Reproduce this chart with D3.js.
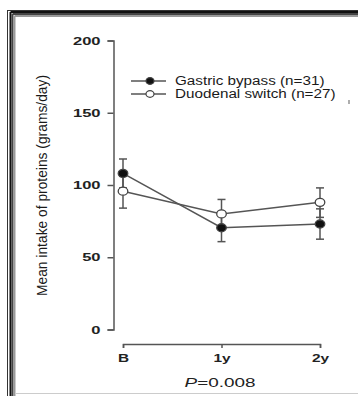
<!DOCTYPE html>
<html>
<head>
<meta charset="utf-8">
<script src="https://cdn.jsdelivr.net/npm/d3@7"></script>
<style>
  body { margin: 0; background: #fff; }
  svg { display: block; font-family: "Liberation Sans", Arial, sans-serif; }
</style>
</head>
<body>
<svg id="chart"></svg>
<script>
// data
const categories = ['B', '1y', '2y'];
const seriesNames = ['Gastric bypass (n=31)', 'Duodenal switch (n=27)'];
const bypassMean = [108, 70.4, 73];
const bypassLow = [98, 60.8, 62.5];
const bypassHigh = [118, 80, 83.5];
const switchMean = [95.7, 80, 88];
const switchLow = [84, 70, 77.6];
const switchHigh = [106, 90, 98];
const yTicks = [0, 50, 100, 150, 200];
const pLabel = '0.008';

const width = 358, height = 396;
const svg = d3.select('#chart').attr('width', width).attr('height', height);

// picture frame
svg.append('line').attr('x1', 7.5).attr('x2', 7.5).attr('y1', 10).attr('y2', height).attr('stroke', '#333').attr('stroke-width', 1);
svg.append('line').attr('x1', 7).attr('x2', width).attr('y1', 10.5).attr('y2', 10.5).attr('stroke', '#333').attr('stroke-width', 1);
[[10.5, '#111', 2], [12.5, '#444', 2], [14.5, '#999', 2]].forEach(([o, c, w]) => {
  svg.append('line').attr('x1', o).attr('x2', o).attr('y1', o + 1.5).attr('y2', height).attr('stroke', c).attr('stroke-width', w);
  svg.append('line').attr('x1', o).attr('x2', width).attr('y1', o + 1.5).attr('y2', o + 1.5).attr('stroke', c).attr('stroke-width', w);
});
svg.append('line').attr('x1', 15).attr('x2', width).attr('y1', 393.5).attr('y2', 393.5).attr('stroke', '#ccc').attr('stroke-width', 1);

const x = d3.scalePoint().domain(categories).range([123, 320]);
const y = d3.scaleLinear().domain([0, 200]).range([329.5, 40.5]);

const stretch = (sel, k) => sel.each(function () {
  const w = this.getComputedTextLength();
  d3.select(this).attr('textLength', w * k).attr('lengthAdjust', 'spacingAndGlyphs');
});

// y axis
const yAxis = svg.append('g')
  .attr('transform', 'translate(113.5,0)')
  .call(d3.axisLeft(y).tickValues(yTicks).tickSize(6).tickPadding(7));
yAxis.selectAll('path, line').attr('stroke', '#555').attr('stroke-width', 1.5);
yAxis.selectAll('text').attr('font-size', 11).attr('font-weight', 'bold').attr('fill', '#222')
  .attr('font-family', '"Liberation Sans", Arial, sans-serif').call(stretch, 1.5);

// x axis
const xAxis = svg.append('g')
  .attr('transform', 'translate(0,344)')
  .call(d3.axisBottom(x).tickSize(4).tickPadding(6));
xAxis.selectAll('path, line').attr('stroke', '#555').attr('stroke-width', 1.5);
xAxis.selectAll('text').attr('font-size', 11).attr('font-weight', 'bold').attr('fill', '#222')
  .attr('font-family', '"Liberation Sans", Arial, sans-serif').call(stretch, 1.4);

// y axis title
svg.append('text')
  .attr('transform', 'translate(46.5,185.5) rotate(-90)')
  .attr('text-anchor', 'middle')
  .attr('font-size', 15.5)
  .attr('fill', '#1a1a1a')
  .attr('textLength', 221).attr('lengthAdjust', 'spacingAndGlyphs')
  .text('Mean intake of proteins (grams/day)');

// p value
const pText = svg.append('text')
  .attr('x', 220).attr('y', 387)
  .attr('text-anchor', 'middle')
  .attr('font-size', 13.5)
  .attr('fill', '#222');
pText.append('tspan').attr('font-style', 'italic').text('P');
pText.append('tspan').text('=' + pLabel);
stretch(pText, 1.4);

const series = [
  { mean: switchMean, low: switchLow, high: switchHigh, fill: '#fff' },
  { mean: bypassMean, low: bypassLow, high: bypassHigh, fill: '#111' }
];

const line = d3.line().x((d, i) => x(categories[i])).y(d => y(d));
const capW = 4;

series.forEach(s => {
  const g = svg.append('g');
  categories.forEach((c, i) => {
    g.append('line').attr('x1', x(c)).attr('x2', x(c)).attr('y1', y(s.low[i])).attr('y2', y(s.high[i]))
      .attr('stroke', '#555').attr('stroke-width', 1.5);
    [s.low[i], s.high[i]].forEach(v => {
      g.append('line').attr('x1', x(c) - capW).attr('x2', x(c) + capW).attr('y1', y(v)).attr('y2', y(v))
        .attr('stroke', '#555').attr('stroke-width', 1.5);
    });
  });
});

series.forEach(s => {
  svg.append('path').datum(s.mean).attr('d', line)
    .attr('fill', 'none').attr('stroke', '#555').attr('stroke-width', 1.5);
});

series.forEach(s => {
  svg.append('g').selectAll('ellipse').data(s.mean).join('ellipse')
    .attr('cx', (d, i) => x(categories[i])).attr('cy', d => y(d))
    .attr('rx', 4.8).attr('ry', 4)
    .attr('fill', s.fill).attr('stroke', '#444').attr('stroke-width', 1.3);
});

// legend
const legend = svg.append('g');
[{ fill: '#111' }, { fill: '#fff' }].forEach((d, i) => {
  const ly = 81 + i * 13;
  legend.append('line').attr('x1', 131).attr('x2', 166).attr('y1', ly).attr('y2', ly)
    .attr('stroke', '#555').attr('stroke-width', 1.5);
  legend.append('ellipse').attr('cx', 150).attr('cy', ly).attr('rx', 4).attr('ry', 3.4)
    .attr('fill', d.fill).attr('stroke', '#444').attr('stroke-width', 1.2);
  legend.append('text').attr('x', 175).attr('y', ly + 4.3)
    .attr('font-size', 12).attr('fill', '#1a1a1a')
    .text(seriesNames[i]).call(stretch, 1.27);
});

// stray mark at the right
svg.append('line').attr('x1', 349).attr('x2', 349).attr('y1', 100).attr('y2', 104)
  .attr('stroke', '#777').attr('stroke-width', 1.2);
</script>
</body>
</html>
